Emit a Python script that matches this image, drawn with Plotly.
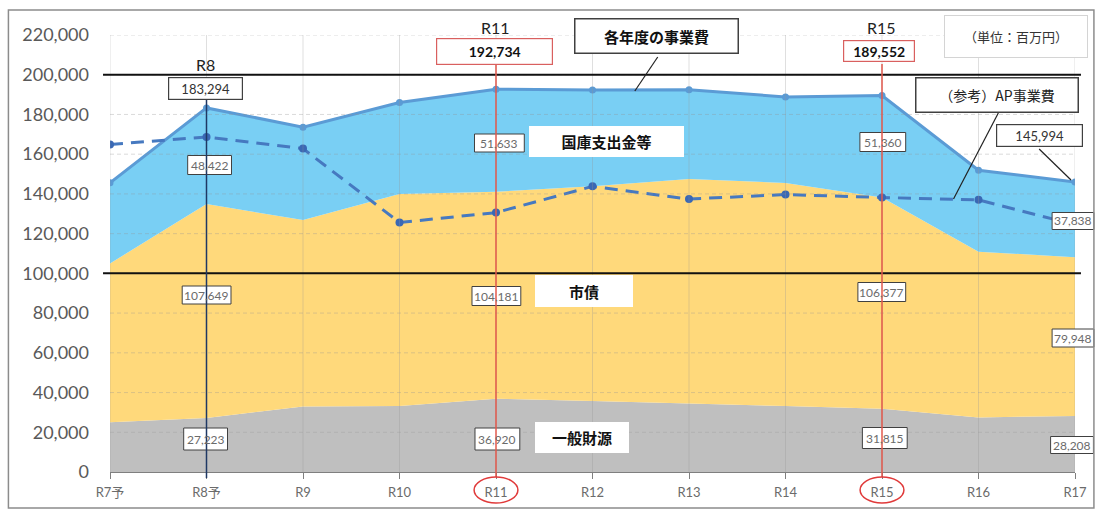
import plotly.graph_objects as go

# ---- data (百万円) ----
categories = ["R7予", "R8予", "R9", "R10", "R11", "R12", "R13", "R14", "R15", "R16", "R17"]
ippan_zaigen = [25000, 27223, 33000, 33200, 36920, 35800, 34500, 33200, 31815, 27500, 28208]   # 一般財源
shisai = [80000, 107649, 93900, 106800, 104181, 108000, 113000, 112300, 106377, 83400, 79948]  # 市債
kokko = [40600, 48422, 46700, 46000, 51633, 48500, 45000, 43300, 51360, 41000, 37838]          # 国庫支出金等
ap_jigyohi = [164900, 168700, 162800, 125600, 130600, 143800, 137400, 139700, 138200, 137000, 124500]  # （参考）AP事業費
y_ticks = [0, 20000, 40000, 60000, 80000, 100000, 120000, 140000, 160000, 180000, 200000, 220000]

total = [a + b + c for a, b, c in zip(ippan_zaigen, shisai, kokko)]

# ---- layout geometry (pixels of the 1099x512 page) ----
W, H = 1099, 512
L, R, T, B = 110, 1079, 35, 472


def PX(x):
    return (x - L) / (R - L)


def PY(y):
    return (B - y) / (B - T)


FONT = "Lato, 'Noto Sans CJK JP', sans-serif"
JFONT = "'Noto Sans CJK JP', 'Noto Sans', sans-serif"

GRAY = "#BFBFBF"
YELLOW = "#FFD97B"
BLUE = "#79CFF4"
LINE_BLUE = "#5B9BD5"
AP_BLUE = "#4679C0"

fig = go.Figure()
fig.add_trace(go.Scatter(x=categories, y=ippan_zaigen, stackgroup="s", mode="none",
                         fillcolor=GRAY, name="一般財源", hoverinfo="skip"))
fig.add_trace(go.Scatter(x=categories, y=shisai, stackgroup="s", mode="none",
                         fillcolor=YELLOW, name="市債", hoverinfo="skip"))
fig.add_trace(go.Scatter(x=categories, y=kokko, stackgroup="s", mode="none",
                         fillcolor=BLUE, name="国庫支出金等", hoverinfo="skip"))
fig.add_trace(go.Scatter(x=categories, y=total, mode="lines+markers",
                         line=dict(color=LINE_BLUE, width=3),
                         marker=dict(color=LINE_BLUE, size=7), name="各年度の事業費"))
fig.add_trace(go.Scatter(x=categories, y=ap_jigyohi, mode="lines+markers",
                         line=dict(color=AP_BLUE, width=3, dash="13px,8px"),
                         marker=dict(color="#3A68B4", size=8), name="（参考）AP事業費"))

shapes = []
annotations = []

# grid (drawn above fills)
for v in y_ticks[1:]:
    shapes.append(dict(type="line", xref="paper", yref="y", x0=0, x1=1, y0=v, y1=v,
                       line=dict(color="rgba(150,150,150,0.35)", width=1, dash="4px,3px"),
                       layer="above"))
for i in range(len(categories)):
    shapes.append(dict(type="line", xref="x", yref="y", x0=i, x1=i, y0=0, y1=y_ticks[-1],
                       line=dict(color="rgba(150,150,150,0.3)", width=1), layer="above"))
# black reference lines
for v in (200000, 100000):
    shapes.append(dict(type="line", xref="paper", yref="y", x0=PX(103), x1=PX(1085), y0=v, y1=v,
                       line=dict(color="#111111", width=2), layer="above"))

fmt = lambda v: f"{v:,}"

# small value labels: white rect shapes (under the highlight lines) + text
small = [
    (kokko[1], 210, 165, 44, 19), (kokko[4], 501, 143, 50, 18), (kokko[8], 886, 142, 46, 19),
    (kokko[10], 1077, 221, 42, 17),
    (shisai[1], 207, 295, 49, 18), (shisai[4], 498, 296, 49, 19), (shisai[8], 885, 292, 48, 19),
    (shisai[10], 1077, 338, 42, 18),
    (ippan_zaigen[1], 206, 439, 44, 22), (ippan_zaigen[4], 499, 439, 45, 22),
    (ippan_zaigen[8], 888, 438, 45, 21), (ippan_zaigen[10], 1076, 445, 43, 17),
]
for v, cx, cy, w, h in small:
    shapes.append(dict(type="rect", xref="paper", yref="paper",
                       x0=PX(cx - w / 2), x1=PX(cx + w / 2), y0=PY(cy + h / 2), y1=PY(cy - h / 2),
                       fillcolor="white", line=dict(color="#404040", width=1), layer="above"))
    annotations.append(dict(text=fmt(v), xref="paper", yref="paper", x=PX(cx), y=PY(cy),
                            xanchor="center", yanchor="middle", showarrow=False,
                            font=dict(family=FONT, size=12, color="#6B6B6B")))

# vertical highlight lines
shapes.append(dict(type="line", xref="x", yref="paper", x0=1, x1=1, y0=PY(478), y1=PY(100),
                   line=dict(color="#1F3864", width=1.5), layer="above"))
for idx in (4, 8):
    shapes.append(dict(type="line", xref="x", yref="paper", x0=idx, x1=idx, y0=PY(477), y1=PY(64),
                       line=dict(color="#E2584C", width=1.5), layer="above"))
    shapes.append(dict(type="circle", xref="x", yref="paper", x0=idx - 22 / 96.9, x1=idx + 22 / 96.9,
                       y0=PY(503), y1=PY(477), line=dict(color="#E03A3A", width=1.5), layer="above"))
# connector lines
for (x0, y0, x1, y1) in [(660, 57, 637, 91), (1002, 113, 957, 199), (1043, 149, 1075, 180)]:
    shapes.append(dict(type="line", xref="paper", yref="paper", x0=PX(x0), y0=PY(y0), x1=PX(x1), y1=PY(y1),
                       line=dict(color="#222222", width=1.2), layer="above"))
# outer frame
shapes.append(dict(type="rect", xref="paper", yref="paper", x0=PX(8), y0=PY(508), x1=PX(1098), y1=PY(10),
                   line=dict(color="#8C8C8C", width=1.5), fillcolor="rgba(0,0,0,0)", layer="above"))


def box(text, cx, cy, w, h, size=12, color="#595959", border="#404040", bw=1, bold=False, family=FONT,
        bg="white"):
    annotations.append(dict(
        text=f"<b>{text}</b>" if bold else text, xref="paper", yref="paper", x=PX(cx), y=PY(cy),
        xanchor="center", yanchor="middle", showarrow=False, width=w, height=h,
        bgcolor=bg, bordercolor=border, borderwidth=bw, borderpad=0,
        font=dict(family=family, size=size, color=color)))


def plain(text, cx, cy, size=16, color="#222222"):
    annotations.append(dict(text=text, xref="paper", yref="paper", x=PX(cx), y=PY(cy),
                            xanchor="center", yanchor="middle", showarrow=False,
                            font=dict(family=FONT, size=size, color=color)))


plain("R8", 206, 64)
plain("R11", 497, 28)
plain("R15", 885, 28)
box(fmt(total[1]), 206, 88, 73, 21, size=13, color="#333333", border="#404040", bw=1.2)
box(fmt(total[4]), 496, 52, 115, 25, size=14, color="#111111", border="#D9605F", bw=1.2, bold=True)
box(fmt(total[8]), 882, 51, 70, 20, size=14, color="#111111", border="#D9605F", bw=1.2, bold=True)
box(fmt(total[10]), 1043, 135, 85, 21, size=13, color="#333333", border="#404040", bw=1.2)

box("各年度の事業費", 659, 36, 162, 33, size=15, color="#111111", border="#404040", bw=1.5, bold=True, family=JFONT)
box("（単位：百万円）", 1020, 37, 142, 41, size=13, color="#333333", border="#D4D4D4", bw=1, family=JFONT)
box("（参考）AP事業費", 1001, 95, 161, 33, size=14, color="#222222", border="#404040", bw=1.5, family=JFONT)
box("国庫支出金等", 609, 141, 155, 31, size=15, color="#111111", border="white", bw=0, bold=True, family=JFONT)
box("市債", 586, 291, 98, 32, size=15, color="#111111", border="white", bw=0, bold=True, family=JFONT)
box("一般財源", 584, 437, 94, 31, size=15, color="#111111", border="white", bw=0, bold=True, family=JFONT)

fig.update_layout(
    width=W, height=H, margin=dict(l=L, r=W - R, t=T, b=H - B),
    paper_bgcolor="white", plot_bgcolor="white", showlegend=False,
    shapes=shapes, annotations=annotations,
    xaxis=dict(type="category", range=[0, len(categories) - 1], showgrid=False, zeroline=False,
               showline=True, linecolor="#7F7F7F", linewidth=1.2, ticks="outside", ticklen=6,
               tickcolor="#7F7F7F", tickfont=dict(family=FONT, size=13, color="#6B6B6B"),
               ticklabelstandoff=2),
    yaxis=dict(range=[0, 220000], tickvals=y_ticks, tickformat=",", showgrid=False, zeroline=False,
               showline=False, ticks="", tickfont=dict(family=FONT, size=18, color="#595959"),
               ticklabelstandoff=20),
)

fig.write_html("out.html")
